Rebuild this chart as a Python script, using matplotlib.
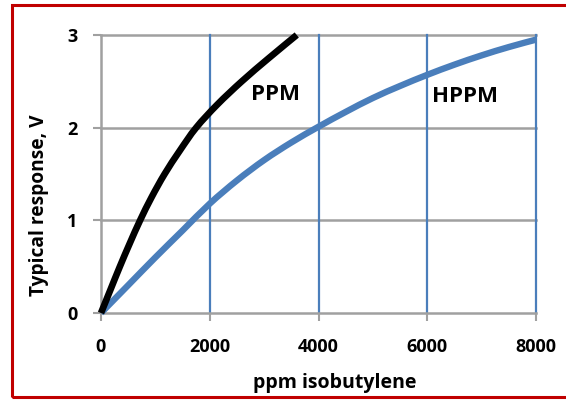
import matplotlib
matplotlib.use("Agg")
import matplotlib.pyplot as plt
from matplotlib.patches import Rectangle, PathPatch
from matplotlib.path import Path
import numpy as np

# Data
ppm_x = [0, 173, 346, 528, 719, 931, 1170, 1447, 1750, 2140, 2590, 3085, 3600]
ppm_y = [0, 0.25, 0.5, 0.75, 1.0, 1.25, 1.5, 1.75, 2.0, 2.25, 2.5, 2.75, 3.0]
hppm_x = [0, 500, 1000, 1500, 2000, 2500, 3000, 3500, 4000, 4500, 5000, 5500, 6000, 6500, 7000, 7500, 8000]
hppm_y = [0, 0.3, 0.6, 0.89, 1.18, 1.43, 1.65, 1.84, 2.01, 2.17, 2.32, 2.45, 2.57, 2.68, 2.78, 2.87, 2.95]
x_ticks = [0, 2000, 4000, 6000, 8000]
y_ticks = [0, 1, 2, 3]


def smooth_path(xs, ys):
    """Excel-like smoothed line: Catmull-Rom spline as cubic Bezier segments."""
    P = np.column_stack([xs, ys]).astype(float)
    n = len(P)
    verts = [P[0]]
    codes = [Path.MOVETO]
    for i in range(n - 1):
        p0 = P[i - 1] if i > 0 else P[i]
        p1 = P[i]
        p2 = P[i + 1]
        p3 = P[i + 2] if i + 2 < n else P[i + 1]
        c1 = p1 + (p2 - p0) / 6.0
        c2 = p2 - (p3 - p1) / 6.0
        verts += [c1, c2, p2]
        codes += [Path.CURVE4] * 3
    return Path(verts, codes)


plt.rcParams['font.family'] = ['Open Sans', 'DejaVu Sans']

fig = plt.figure(figsize=(5.66, 4.01), dpi=100)
ax = fig.add_axes([101/566, 1-313/401, 435/566, 278/401])

ax.set_xlim(0, 8000)
ax.set_ylim(0, 3)

grid_gray = '#A0A0A0'
blue = '#4A7EBB'

for yv in y_ticks[1:]:
    ax.axhline(yv, color=grid_gray, lw=1.8, zorder=1, clip_on=False)
for xv in x_ticks[1:]:
    ax.axvline(xv, color=blue, lw=1.6, zorder=1, clip_on=False)

ax.add_patch(PathPatch(smooth_path(hppm_x, hppm_y), facecolor='none', edgecolor=blue,
                       lw=4.6, zorder=3, clip_on=False, capstyle='butt'))
ax.add_patch(PathPatch(smooth_path(ppm_x, ppm_y), facecolor='none', edgecolor='black',
                       lw=4.8, zorder=4, clip_on=False, capstyle='butt'))

for s in ['top', 'right']:
    ax.spines[s].set_visible(False)
for s in ['left', 'bottom']:
    ax.spines[s].set_color(grid_gray)
    ax.spines[s].set_linewidth(1.8)

ax.set_xticks(x_ticks)
ax.set_yticks(y_ticks)
ax.tick_params(axis='both', colors=grid_gray, length=6, width=1.5, labelcolor='black',
               labelsize=13)
ax.tick_params(axis='x', pad=12)
ax.tick_params(axis='y', pad=11)
for lab in ax.get_xticklabels() + ax.get_yticklabels():
    lab.set_fontweight('bold')

ax.text(3218, 2.36, 'PPM', fontsize=16, fontweight='bold', ha='center', va='center', zorder=5)
ax.text(6694, 2.34, 'HPPM', fontsize=16, fontweight='bold', ha='center', va='center', zorder=5)

fig.text(335/566, 1-383/401, 'ppm isobutylene', fontsize=14, fontweight='bold',
         ha='center', va='center')
fig.text(39/566, 1-205/401, 'Typical response, V', fontsize=13.8, fontweight='bold',
         ha='center', va='center', rotation=90)

fig.patches.append(Rectangle((12/566, 1-397/401), 570/566, 392/401, transform=fig.transFigure,
                             fill=False, edgecolor='#C00000', lw=2.2, clip_on=False))

fig.savefig('out.png', dpi=100)
